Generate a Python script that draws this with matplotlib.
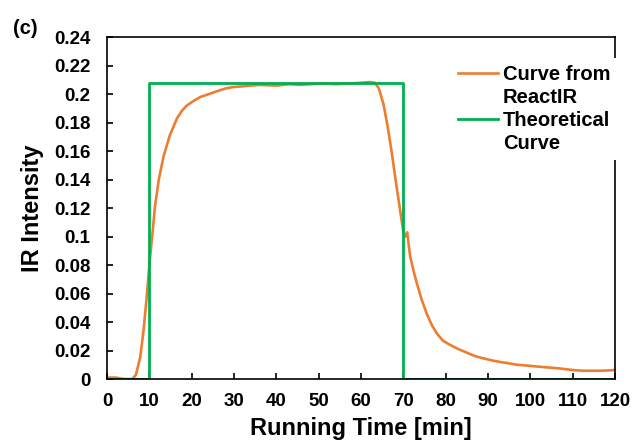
import numpy as np
import matplotlib.pyplot as plt
from matplotlib.lines import Line2D

plt.rcParams['font.family'] = ['Liberation Sans', 'DejaVu Sans']
plt.rcParams['font.weight'] = 'bold'

# ReactIR curve
t_ir = [0, 2, 4, 6, 6.8, 7.8, 8.6, 9.3, 10.0, 10.7, 11.3, 12.2, 13.3, 14.8, 16.5, 17.6, 18.8,
        20.3, 22, 24, 25.9, 28, 29.8, 32, 33.8, 36, 40, 43, 45.6, 48, 51, 54, 57, 60, 62, 63.3,
        64.2, 65.3, 66.3, 67.3, 68.2, 69.2, 70.0, 70.5, 70.9, 71.6, 72.4, 73.2, 74.3, 75.5,
        76.7, 77.9, 79.3, 81.0, 83, 85, 87, 88.9, 91, 92.8, 95, 96.8, 99, 100.7, 102.6, 104.6,
        106.6, 108.6, 110.5, 112.5, 114.5, 116.5, 118.3, 120]
y_ir = [0.001, 0.001, 0.0, 0.0, 0.003, 0.015, 0.034, 0.056, 0.081, 0.102, 0.121, 0.140, 0.156,
        0.171, 0.183, 0.188, 0.192, 0.195, 0.198, 0.200, 0.202, 0.204, 0.205, 0.2055, 0.206,
        0.2065, 0.206, 0.207, 0.2065, 0.207, 0.2075, 0.207, 0.2075, 0.208, 0.2085, 0.208,
        0.204, 0.193, 0.177, 0.158, 0.139, 0.119, 0.103, 0.100, 0.103, 0.086, 0.076, 0.067,
        0.056, 0.046, 0.038, 0.032, 0.027, 0.024, 0.021, 0.0185, 0.016, 0.0145, 0.013, 0.012,
        0.011, 0.010, 0.0095, 0.009, 0.0085, 0.008, 0.0075, 0.0068, 0.0062, 0.0058, 0.0058,
        0.0058, 0.006, 0.0063]

# theoretical square pulse
t_th = [0, 10, 10, 70, 70, 120]
y_th = [0, 0, 0.208, 0.208, 0, 0]

fig = plt.figure(figsize=(6.34, 4.48), dpi=100)
ax = fig.add_axes([0.169, 0.154, 0.801, 0.763])

l1, = ax.plot(t_ir, y_ir, color='#ED7D31', lw=1.9)
l2, = ax.plot(t_th, y_th, color='#00B050', lw=2.0)

ax.set_xlim(0, 120)
ax.set_ylim(0, 0.24)
ax.set_xticks(np.arange(0, 121, 10))
ax.set_yticks(np.arange(0, 0.241, 0.02))
ax.set_yticklabels(['0', '0.02', '0.04', '0.06', '0.08', '0.1', '0.12', '0.14', '0.16',
                    '0.18', '0.2', '0.22', '0.24'])
ax.tick_params(direction='in', length=4, width=1.2, labelsize=13.5)
ax.tick_params(axis='y', pad=12)
ax.tick_params(axis='x', pad=10)
for s in ax.spines.values():
    s.set_linewidth(1.2)

ax.set_xlabel('Running Time [min]', fontsize=17, fontweight='bold', labelpad=5)
ax.set_ylabel('IR Intensity', fontsize=17, fontweight='bold', labelpad=7)

# legend labels wrap onto a second line with the handle on the first line
blank = Line2D([], [], color='none')
leg = ax.legend([l1, blank, l2, blank], ['Curve from', 'ReactIR', 'Theoretical', 'Curve'],
                loc='upper right', bbox_to_anchor=(1.005, 0.94), fontsize=14.5,
                frameon=True, fancybox=False, framealpha=1, edgecolor='none',
                handlelength=2.0, handletextpad=0.25, borderaxespad=0, labelspacing=0.2,
                borderpad=0.35)

fig.text(0.02, 0.925, '(c)', fontsize=14.5, fontweight='bold')

fig.savefig('out.png', dpi=100)
